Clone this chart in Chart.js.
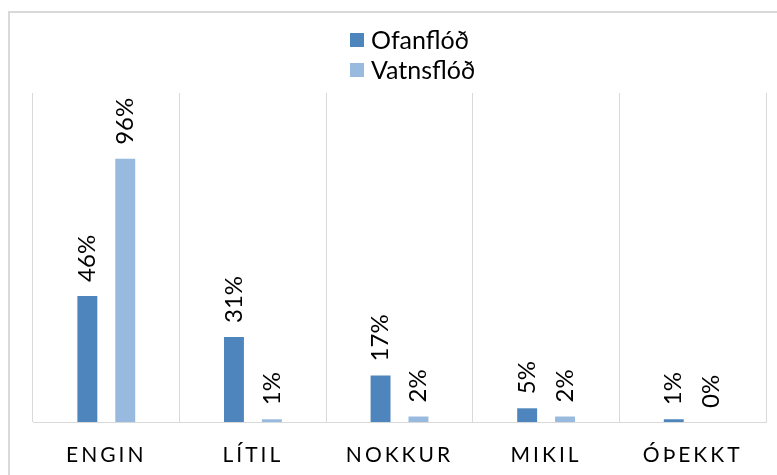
<!DOCTYPE html>
<html>
<head>
<meta charset="utf-8">
<script src="https://cdn.jsdelivr.net/npm/chart.js"></script>
<style>
  html, body { margin: 0; padding: 0; background: #fff; }
  canvas { display: block; }
</style>
</head>
<body>
<canvas id="c" width="777" height="475"></canvas>
<script>
const categories = ['ENGIN', 'LÍTIL', 'NOKKUR', 'MIKIL', 'ÓÞEKKT'];
const seriesNames = ['Ofanflóð', 'Vatnsflóð'];
const ofanflod = [46, 31, 17, 5, 1];
const vatnsflod = [96, 1, 2, 2, 0];
const colors = ['#4F85BD', '#99BADF'];

const FONT = 'Lato, "Open Sans", sans-serif';

const framePlugin = {
  id: 'frame',
  beforeDraw(chart) {
    const c = chart.ctx;
    c.save();
    c.fillStyle = '#ffffff';
    c.fillRect(0, 0, chart.width, chart.height);
    c.strokeStyle = '#d9d9d9';
    c.lineWidth = 2;
    c.strokeRect(9, 12, chart.width + 10, chart.height + 10);
    c.restore();
  }
};

const legendPlugin = {
  id: 'customLegend',
  afterDraw(chart) {
    const c = chart.ctx;
    c.save();
    c.font = '25px ' + FONT;
    c.textBaseline = 'middle';
    c.textAlign = 'left';
    chart.data.datasets.forEach((ds, i) => {
      const y = 33 + i * 30;
      c.fillStyle = ds.backgroundColor;
      c.fillRect(350, y, 14, 14);
      c.fillStyle = '#000';
      c.fillText(ds.label, 371, y + 8);
    });
    c.restore();
  }
};

const labelPlugin = {
  id: 'barLabels',
  afterDatasetsDraw(chart) {
    const c = chart.ctx;
    c.save();
    c.font = '24px ' + FONT;
    c.fillStyle = '#000';
    c.textAlign = 'left';
    c.textBaseline = 'middle';
    chart.data.datasets.forEach((ds, di) => {
      const meta = chart.getDatasetMeta(di);
      meta.data.forEach((bar, i) => {
        c.save();
        c.translate(bar.x, bar.y - 14);
        c.rotate(-Math.PI / 2);
        c.fillText(ds.data[i] + '%', 0, 0);
        c.restore();
      });
    });
    c.restore();
  }
};

const spacingPlugin = {
  id: 'tickSpacing',
  afterLayout(chart) {
    const s = chart.scales.x;
    if (s && !s._lsPatched) {
      const orig = s.drawLabels;
      s.drawLabels = function (area) {
        const c = this.ctx;
        c.save();
        c.letterSpacing = '3px';
        orig.call(this, area);
        c.restore();
      };
      s._lsPatched = true;
    }
  }
};

new Chart(document.getElementById('c'), {
  type: 'bar',
  data: {
    labels: categories,
    datasets: [
      { label: seriesNames[0], data: ofanflod, backgroundColor: colors[0] },
      { label: seriesNames[1], data: vatnsflod, backgroundColor: colors[1] }
    ]
  },
  options: {
    responsive: false,
    animation: false,
    devicePixelRatio: 1,
    layout: { padding: { left: 33, right: 11, top: 93, bottom: 0 } },
    datasets: { bar: { categoryPercentage: 0.517, barPercentage: 0.526 } },
    plugins: { legend: { display: false }, tooltip: { enabled: false } },
    scales: {
      y: { display: false, min: 0, max: 120 },
      x: {
        grid: { color: '#d9d9d9', drawTicks: false, offset: true },
        border: { color: '#d9d9d9' },
        ticks: { color: '#000', font: { family: FONT, size: 21 }, padding: 21 },
        afterFit(scale) { scale.height = 53; }
      }
    }
  },
  plugins: [framePlugin, legendPlugin, labelPlugin, spacingPlugin]
});
</script>
</body>
</html>
